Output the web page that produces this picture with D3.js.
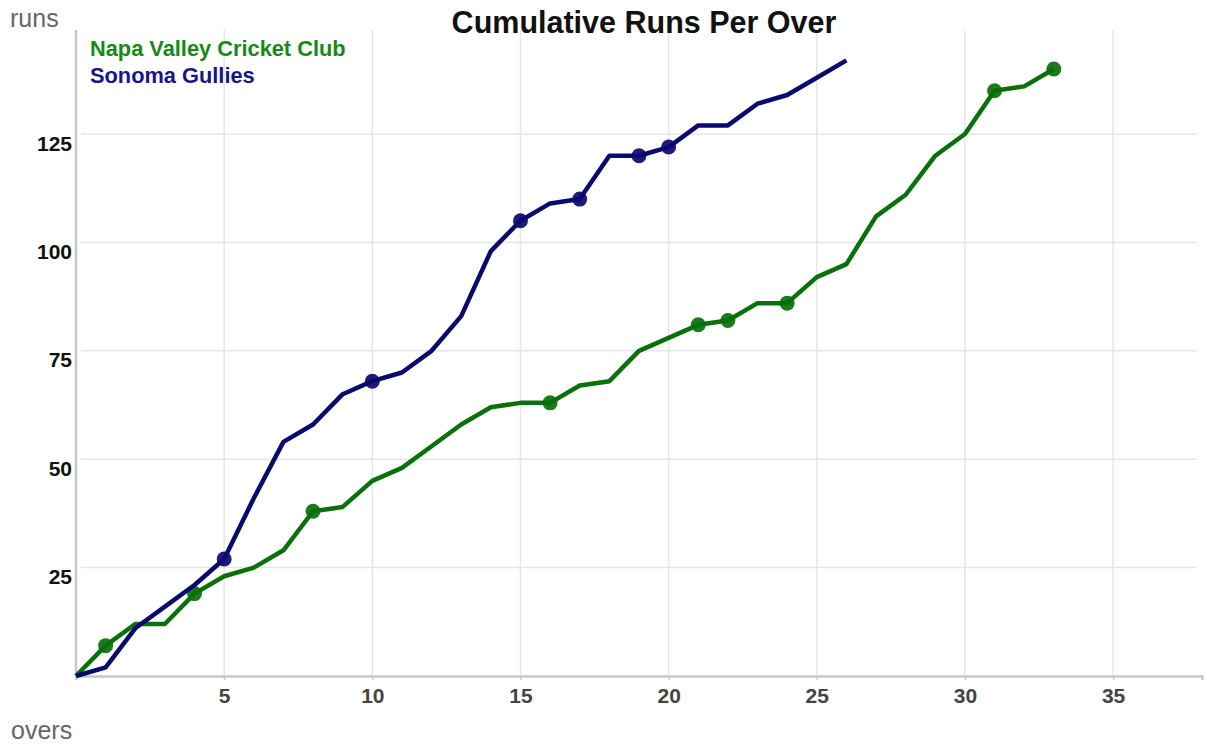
<!DOCTYPE html>
<html>
<head>
<meta charset="utf-8">
<script src="https://cdn.jsdelivr.net/npm/d3@7"></script>
<style>
  html, body { margin: 0; padding: 0; background: #fff; }
  svg { display: block; font-family: "Liberation Sans", Arial, Helvetica, sans-serif; }
</style>
</head>
<body>
<svg id="chart" width="1206" height="744"></svg>
<script>
// ---- data ----
const title = "Cumulative Runs Per Over";
const teams = ["Napa Valley Cricket Club", "Sonoma Gullies"];
const teamColors = ["#0a700a", "#0a0a6e"];
const legendColors = ["#168a16", "#16168a"];
// cumulative runs at end of each over (over 0 .. n)
const napaRuns = [0, 7, 12, 12, 19, 23, 25, 29, 38, 39, 45, 48, 53, 58, 62, 63, 63, 67, 68, 75, 78, 81, 82, 86, 86, 92, 95, 106, 111, 120, 125, 135, 136, 140];
const sonomaRuns = [0, 2, 11, 16, 21, 27, 41, 54, 58, 65, 68, 70, 75, 83, 98, 105, 109, 110, 120, 120, 122, 127, 127, 132, 134, 138, 142];
// overs in which a wicket fell
const napaWickets = [1, 4, 8, 16, 21, 22, 24, 31, 33];
const sonomaWickets = [5, 10, 15, 17, 19, 20];
const xTicks = [5, 10, 15, 20, 25, 30, 35];
const yTicks = [25, 50, 75, 100, 125];
const xLabel = "overs";
const yLabel = "runs";

// ---- layout ----
const svg = d3.select("#chart");
const mLeft = 76, mRight = 1202, mTop = 30, mBottom = 676;
const x = d3.scaleLinear().domain([0, 38]).range([mLeft, mRight]);
const y = d3.scaleLinear().domain([0, 149]).range([mBottom, mTop]);

// gridlines
svg.append("g").selectAll("line").data(xTicks).join("line")
  .attr("x1", d => x(d)).attr("x2", d => x(d))
  .attr("y1", mTop).attr("y2", mBottom)
  .attr("stroke", "#e6e6e6").attr("stroke-width", 1.5);
svg.append("g").selectAll("line").data(yTicks).join("line")
  .attr("x1", mLeft + 5).attr("x2", 1197)
  .attr("y1", d => y(d)).attr("y2", d => y(d))
  .attr("stroke", "#e6e6e6").attr("stroke-width", 1.5);

// x axis
const xAxis = svg.append("g").attr("transform", `translate(0,${mBottom})`)
  .call(d3.axisBottom(x).tickValues(xTicks).tickSize(4).tickPadding(8));
xAxis.select(".domain").attr("stroke", "#c8c8c8").attr("stroke-width", 2.5);
xAxis.selectAll(".tick line").attr("stroke", "#c8c8c8").attr("stroke-width", 1.5);
xAxis.selectAll(".tick text").attr("fill", "#444").attr("font-size", 21)
  .attr("font-weight", "bold")
  .attr("font-family", "Liberation Sans, Arial, sans-serif");

// y axis
const yAxis = svg.append("g").attr("transform", `translate(${mLeft},0)`)
  .call(d3.axisLeft(y).tickValues(yTicks).tickSize(0).tickPadding(4));
yAxis.select(".domain").attr("stroke", "#c8c8c8").attr("stroke-width", 2.5)
  .attr("d", `M0,${mTop}V${mBottom}`);
yAxis.selectAll(".tick text").attr("fill", "#111").attr("font-size", 21)
  .attr("font-weight", "bold").attr("dy", "0.76em")
  .attr("font-family", "Liberation Sans, Arial, sans-serif");

// axis titles
svg.append("text").attr("x", 10).attr("y", 27).attr("fill", "#666")
  .attr("font-size", 25).text(yLabel);
svg.append("text").attr("x", 11).attr("y", 739).attr("fill", "#666")
  .attr("font-size", 25).text(xLabel);

// title
svg.append("text").attr("x", 644).attr("y", 33).attr("text-anchor", "middle")
  .attr("fill", "#111").attr("font-size", 30.5).attr("font-weight", "bold").text(title);

// lines & wicket markers
const series = [
  { runs: napaRuns, wickets: napaWickets, color: teamColors[0] },
  { runs: sonomaRuns, wickets: sonomaWickets, color: teamColors[1] }
];
const line = d3.line().x((d, i) => x(i)).y(d => y(d));
series.forEach(s => {
  svg.append("path").datum(s.runs)
    .attr("fill", "none").attr("stroke", s.color)
    .attr("stroke-width", 4.5).attr("stroke-linejoin", "round")
    .attr("d", line);
  svg.append("g").selectAll("circle").data(s.wickets).join("circle")
    .attr("cx", d => x(d)).attr("cy", d => y(s.runs[d]))
    .attr("r", 7.5).attr("fill", s.color).attr("fill-opacity", 0.92);
});

// legend
svg.append("g").selectAll("text").data(teams).join("text")
  .attr("x", 90).attr("y", (d, i) => 56 + i * 27)
  .attr("fill", (d, i) => legendColors[i]).attr("font-size", 21.8)
  .attr("font-weight", "bold")
  .text(d => d);
</script>
</body>
</html>
